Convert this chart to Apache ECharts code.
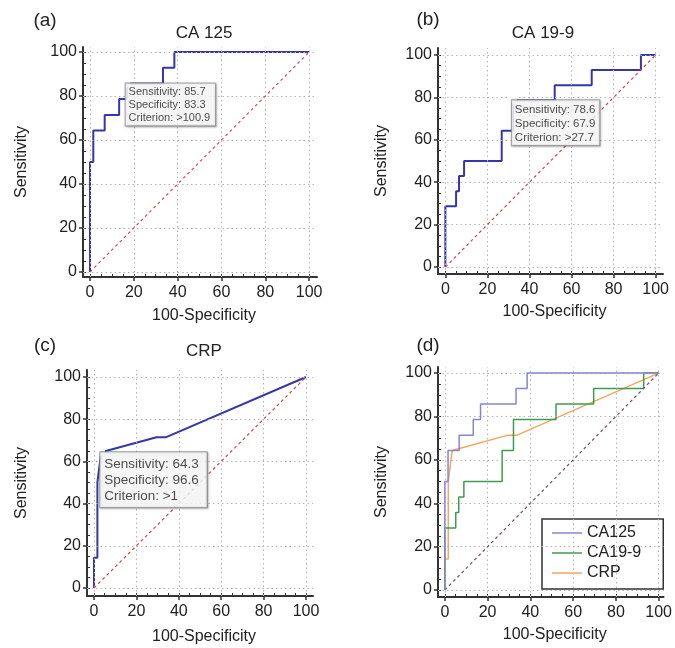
<!DOCTYPE html>
<html>
<head>
<meta charset="utf-8">
<script src="https://cdn.jsdelivr.net/npm/echarts@6/dist/echarts.min.js"></script>
<style>
html,body{margin:0;padding:0;background:#fff;}
#chart{width:675px;height:648px;}
</style>
</head>
<body>
<div id="chart"></div>
<script>
// ---- data ----
const majorTicks = [0, 20, 40, 60, 80, 100];
const minorTicks = [0,5,10,15,20,25,30,35,40,45,50,55,60,65,70,75,80,85,90,95,100];
const panelLetters = ['(a)', '(b)', '(c)', '(d)'];
const panelTitles = ['CA 125', 'CA 19-9', 'CRP', ''];
const xAxisName = '100-Specificity';
const yAxisName = 'Sensitivity';

const ca125X = [0, 0, 1.5, 6.7, 13.3, 16.7, 33.3, 38.5, 100];
const ca125Y = [0, 50, 64.3, 71.4, 78.6, 85.7, 92.9, 100, 100];
const ca199X = [0, 0, 5.1, 6.5, 8.9, 26.8, 32.1, 52, 69.6, 93, 100];
const ca199Y = [0, 28.6, 35.7, 42.9, 50, 64.3, 78.6, 85.7, 92.9, 100, 100];
const crpX = [0, 0, 1.6, 1.6, 3.4, 29.5, 33.8, 100];
const crpY = [0, 14.3, 14.3, 50, 64.3, 71.4, 71.4, 100];
const refX = [0, 100];
const refY = [0, 100];

const cutSens = [85.7, 78.6, 64.3];
const cutSpec = [83.3, 67.9, 96.6];
const cutCrit = ['>100.9', '>27.7', '>1'];

const legendNames = ['CA125', 'CA19-9', 'CRP'];

// ---- layout / style ----
const panels = [
  {left: 83, top: 47, width: 234, height: 230, xMin: -3.2, xMax: 103.6, yMin: -2.3, yMax: 102.3, yGap: 53, xGap: 31},
  {left: 438, top: 48, width: 225, height: 226, xMin: -3.5, xMax: 103.5, yMin: -3.3, yMax: 103.3, yGap: 48, xGap: 30},
  {left: 87, top: 370, width: 226, height: 226, xMin: -3.3, xMax: 103.3, yMin: -3.8, yMax: 103.3, yGap: 57, xGap: 33},
  {left: 438, top: 367, width: 230, height: 230, xMin: -3.2, xMax: 102.3, yMin: -3.2, yMax: 102.8, yGap: 48, xGap: 30}
];
const letterPos = [[45, 21], [428, 20], [45, 346], [428, 346]];
const titlePos = [[204, 33], [543, 33], [204, 351], [553, 351]];
const boxStyles = [
  {fontSize: 11, lineHeight: 13, padding: [2, 5, 1, 3]},
  {fontSize: 11.5, lineHeight: 14, padding: [2, 4, 1, 3]},
  {fontSize: 13.5, lineHeight: 16, padding: [4, 8, 3, 4]}
];
const FONT = '"Liberation Sans", Arial, sans-serif';
const mainBlue = '#3636aa';
const gridColor = '#b5b5b5';
const refColors = ['#cc4848', '#cc4848', '#cc4848', '#7a4a6e'];

const zip = (xs, ys) => xs.map((x, i) => [x, ys[i]]);

const grid = [], xAxis = [], yAxis = [], series = [], graphic = [];

panels.forEach((p, i) => {
  grid.push({left: p.left, top: p.top, width: p.width, height: p.height, containLabel: false});
  xAxis.push({
    type: 'value', gridIndex: i, min: p.xMin, max: p.xMax, position: 'bottom',
    name: xAxisName, nameLocation: 'middle', nameGap: p.xGap,
    nameTextStyle: {fontSize: 16, color: '#222', fontFamily: FONT, padding: [0, 0, 0, 8]},
    axisLine: {show: true, onZero: false, lineStyle: {color: '#333', width: 2}},
    axisTick: {show: true, customValues: minorTicks, inside: true, length: 3, lineStyle: {color: '#333', width: 1}},
    axisLabel: {show: true, customValues: majorTicks, margin: 8, fontSize: 16, color: '#222', fontFamily: FONT},
    splitLine: {show: false}
  });
  yAxis.push({
    type: 'value', gridIndex: i, min: p.yMin, max: p.yMax, position: 'left',
    name: yAxisName, nameLocation: 'middle', nameGap: p.yGap,
    nameTextStyle: {fontSize: 16, color: '#222', fontFamily: FONT},
    axisLine: {show: true, onZero: false, lineStyle: {color: '#333', width: 2}},
    axisTick: {show: true, customValues: minorTicks, inside: true, length: 3, lineStyle: {color: '#333', width: 1}},
    axisLabel: {show: true, customValues: majorTicks, margin: 6, fontSize: 16, color: '#222', fontFamily: FONT},
    splitLine: {show: false}
  });
});
panels.forEach((p, i) => {
  xAxis.push({
    type: 'value', gridIndex: i, min: p.xMin, max: p.xMax, position: 'bottom',
    axisLine: {show: false, onZero: false},
    axisTick: {show: true, customValues: majorTicks, inside: false, length: 4, lineStyle: {color: '#333', width: 1.5}},
    axisLabel: {show: false}, splitLine: {show: false}
  });
  yAxis.push({
    type: 'value', gridIndex: i, min: p.yMin, max: p.yMax, position: 'left',
    axisLine: {show: false, onZero: false},
    axisTick: {show: true, customValues: majorTicks, inside: false, length: 4, lineStyle: {color: '#333', width: 1.5}},
    axisLabel: {show: false}, splitLine: {show: false}
  });
});

panels.forEach((p, i) => {
  const gl = [];
  majorTicks.forEach(v => { gl.push({xAxis: v}); gl.push({yAxis: v}); });
  gl.push([
    {coord: [refX[0], refY[0]], lineStyle: {color: refColors[i], width: 1.2, type: [3, 3]}},
    {coord: [refX[1], refY[1]]}
  ]);
  series.push({
    type: 'scatter', name: 'grid' + i, xAxisIndex: i, yAxisIndex: i, z: 1,
    data: [], silent: true,
    markLine: {
      silent: true, symbol: 'none', label: {show: false}, animation: false,
      lineStyle: {color: gridColor, width: 1, type: [1.5, 3]},
      emphasis: {disabled: true},
      data: gl
    }
  });
});

const curves = [[ca125X, ca125Y, true], [ca199X, ca199Y, true], [crpX, crpY, false]];
curves.forEach((c, i) => {
  series.push({
    type: 'line', name: 'roc' + i, xAxisIndex: i, yAxisIndex: i, z: 3,
    data: zip(c[0], c[1]), symbol: 'none', step: c[2] ? 'end' : false,
    color: mainBlue,
    lineStyle: {color: mainBlue, width: 2}
  });
  const bs = boxStyles[i];
  series.push({
    type: 'scatter', name: 'cut' + i, xAxisIndex: i, yAxisIndex: i, z: 5,
    data: [[100 - cutSpec[i], cutSens[i]]],
    symbol: 'emptyCircle', symbolSize: 6,
    itemStyle: {color: '#fff', borderColor: mainBlue, borderWidth: 1},
    label: {
      show: true, position: [3, 4],
      formatter: 'Sensitivity: ' + cutSens[i] + '\nSpecificity: ' + cutSpec[i] + '\nCriterion: ' + cutCrit[i],
      fontFamily: FONT, fontSize: bs.fontSize, lineHeight: bs.lineHeight, color: '#222',
      backgroundColor: '#fff', borderColor: '#8a8a8a', borderWidth: 1, padding: bs.padding,
      shadowColor: 'rgba(0,0,0,0.25)', shadowBlur: 2, shadowOffsetX: 1, shadowOffsetY: 1
    }
  });
});

const dColors = ['#8585d6', '#3f9a52', '#f5a55c'];
const dCurves = [[ca125X, ca125Y, true], [ca199X, ca199Y, true], [crpX, crpY, false]];
dCurves.forEach((c, k) => {
  series.push({
    type: 'line', name: legendNames[k], xAxisIndex: 3, yAxisIndex: 3, z: 3 + (2 - k),
    data: zip(c[0], c[1]), symbol: 'none', step: c[2] ? 'end' : false,
    color: dColors[k],
    lineStyle: {color: dColors[k], width: 1.5}
  });
});

panelLetters.forEach((t, i) => {
  graphic.push({type: 'text', x: letterPos[i][0], y: letterPos[i][1],
    style: {text: t, font: '19px ' + FONT, fill: '#222', textAlign: 'center', textVerticalAlign: 'middle'}});
  if (panelTitles[i]) {
    graphic.push({type: 'text', x: titlePos[i][0], y: titlePos[i][1],
      style: {text: panelTitles[i], font: '17px ' + FONT, fill: '#222', textAlign: 'center', textVerticalAlign: 'middle'}});
  }
});

const chart = echarts.init(document.getElementById('chart'), null, {renderer: 'canvas'});
chart.setOption({
  backgroundColor: '#fff',
  animation: false,
  textStyle: {fontFamily: FONT},
  grid, xAxis, yAxis, series, graphic,
  legend: {
    show: true, data: legendNames, orient: 'vertical', left: 542, top: 519,
    icon: 'rect', itemWidth: 30, itemHeight: 1.5, itemGap: 4,
    textStyle: {fontSize: 16, lineHeight: 16, color: '#222', fontFamily: FONT},
    padding: [6, 22, 8, 10], borderColor: '#333', borderWidth: 1.5, backgroundColor: '#fff',
    selectedMode: false
  }
});
</script>
</body>
</html>
